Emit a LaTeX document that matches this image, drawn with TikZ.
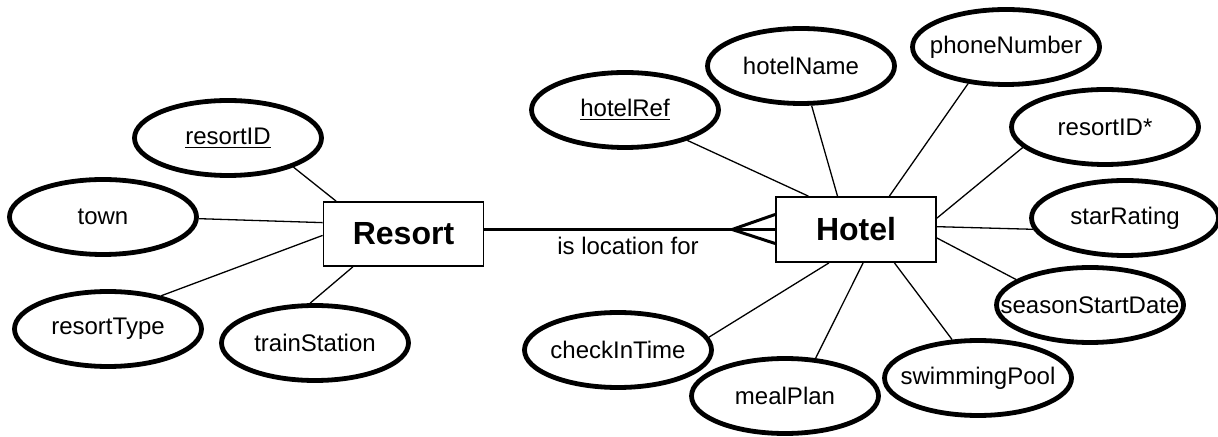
\documentclass[tikz,border=0pt]{standalone}
\usepackage{fontspec}
\setmainfont{Liberation Sans}
\usetikzlibrary{shapes.geometric,calc}
\newcommand\atxt[1]{\makebox[0pt]{#1}}
\tikzset{
  attr/.style={ellipse, draw, line width=2.4pt, minimum width=93.5pt, minimum height=37.5pt, inner sep=0pt, font=\fontsize{12}{14}\selectfont},
  entity/.style={draw, line width=0.9pt, minimum width=80pt, minimum height=32pt, inner sep=0pt, font=\fontsize{16}{19}\selectfont\bfseries},
  link/.style={line width=0.65pt},
  rel/.style={line width=1.5pt},
  lbl/.style={inner sep=0pt, font=\fontsize{12}{14}\selectfont}
}
\begin{document}
\begin{tikzpicture}[x=0.5pt, y=-0.5pt]
\useasboundingbox (0,0) rectangle (1218,437);
% entities
\node[entity] (Resort) at (403.5,234) {Resort};
\node[entity, minimum height=32.5pt] (Hotel) at (856,229.5) {Hotel};
% resort attributes
\node[attr] (rID) at (228,138) {\atxt{\underline{resortID}}};
\node[attr] (town) at (103,217) {\atxt{town}};
\node[attr] (rType) at (108,329) {\atxt{resortType}};
\node[attr] (train) at (315,343) {\atxt{trainStation}};
% hotel attributes
\node[attr] (hRef) at (625,110) {\atxt{\underline{hotelRef}}};
\node[attr] (hName) at (801,66) {\atxt{hotelName}};
\node[attr] (phone) at (1006,47) {\atxt{phoneNumber}};
\node[attr] (hrID) at (1105,127) {\atxt{resortID*}};
\node[attr] (star) at (1125,218) {\atxt{starRating}};
\node[attr] (season) at (1090,305) {\atxt{seasonStartDate}};
\node[attr] (swim) at (978,378) {\atxt{swimmingPool}};
\node[attr] (meal) at (785,396) {\atxt{mealPlan}};
\node[attr] (check) at (618,350) {\atxt{checkInTime}};
% resort links
\draw[link] (rID.-24) -- (Resort.154);
\draw[link] (town.-1) -- (Resort.172);
\draw[link] (rType.32) -- (Resort.181);
\draw[link] (train.97) -- (Resort.213);
% hotel links
\draw[link] (hRef.-26) -- (Hotel.145);
\draw[link] (hName.-75) -- (Hotel.119);
\draw[link] (phone.224) -- (Hotel.45);
\draw[link] (hrID.194) -- (Hotel.8);
\draw[link] (star.187) -- (Hotel.2);
\draw[link] (season.161) -- (Hotel.-6);
\draw[link] (swim.124) -- (Hotel.-41);
\draw[link] (meal.51) -- (Hotel.-78);
\draw[link] (check.8) -- (Hotel.231);
% relationship with crow's foot
\coordinate (cf) at ($(Hotel.west)+(-43,0)$);
\coordinate (tineUp) at ($(Hotel.west)+(0,-15)$);
\coordinate (tineDown) at ($(Hotel.west)+(0,14)$);
\draw[rel] (Resort.east |- cf) -- (Hotel.west);
\draw[rel] (tineUp) -- (cf) -- (tineDown);
\node[lbl] (relname) at (628,246) {is location for};
\end{tikzpicture}
\end{document}
